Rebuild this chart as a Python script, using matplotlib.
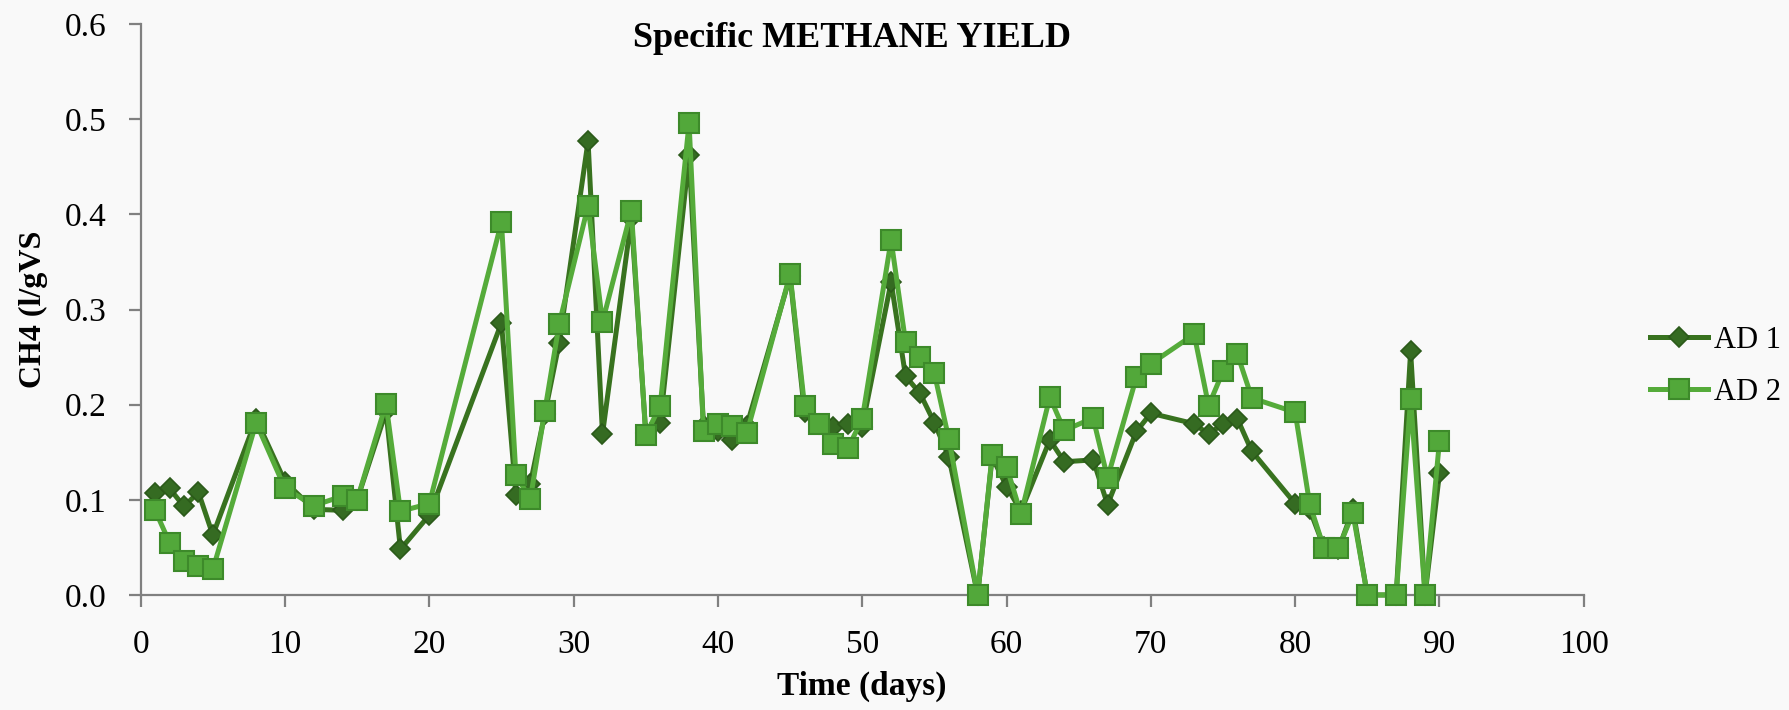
import numpy as np
import matplotlib.pyplot as plt

days = [1, 2, 3, 4, 5, 8, 10, 12, 14, 15, 17, 18, 20, 25, 26, 27, 28, 29, 31, 32,
        34, 35, 36, 38, 39, 40, 41, 42, 45, 46, 47, 48, 49, 50, 52, 53, 54, 55, 56, 58,
        59, 60, 61, 63, 64, 66, 67, 69, 70, 73, 74, 75, 76, 77, 80, 81, 82, 83, 84, 85,
        87, 88, 89, 90]

ad1 = [0.107, 0.112, 0.093, 0.108, 0.063, 0.185, 0.119, 0.090, 0.089, 0.100,
       0.193, 0.048, 0.084, 0.286, 0.105, 0.117, 0.190, 0.265, 0.477, 0.169,
       0.396, 0.170, 0.181, 0.462, 0.178, 0.172, 0.163, 0.178, 0.335, 0.192,
       0.180, 0.177, 0.180, 0.177, 0.329, 0.230, 0.212, 0.181, 0.145, 0.0,
       0.145, 0.114, 0.088, 0.163, 0.140, 0.142, 0.095, 0.172, 0.191, 0.180,
       0.169, 0.180, 0.185, 0.151, 0.096, 0.090, 0.050, 0.048, 0.090, 0.0,
       0.0, 0.256, 0.0, 0.128]

ad2 = [0.089, 0.055, 0.036, 0.030, 0.027, 0.181, 0.112, 0.094, 0.104, 0.100,
       0.201, 0.088, 0.096, 0.392, 0.126, 0.101, 0.193, 0.285, 0.409, 0.287,
       0.404, 0.168, 0.199, 0.496, 0.172, 0.180, 0.178, 0.170, 0.337, 0.199,
       0.180, 0.159, 0.154, 0.185, 0.373, 0.266, 0.250, 0.233, 0.164, 0.0,
       0.147, 0.135, 0.085, 0.208, 0.173, 0.186, 0.123, 0.229, 0.243, 0.274,
       0.199, 0.235, 0.253, 0.207, 0.192, 0.096, 0.049, 0.049, 0.086, 0.0,
       0.0, 0.206, 0.0, 0.162]

plt.rcParams['font.family'] = ['Liberation Serif', 'DejaVu Serif']

fig = plt.figure(figsize=(17.9, 7.1), dpi=100, facecolor='#f9f9f9')
ax = fig.add_axes([0.0786, 0.162, 0.8062, 0.804])
ax.set_facecolor('#f9f9f9')

ax.plot(days, ad1, color='#38721f', lw=3.6, marker='D', ms=10.5,
        markerfacecolor='#356b22', markeredgecolor='#2b5a1a', markeredgewidth=1.2,
        label='AD 1', clip_on=False, zorder=3)
ax.plot(days, ad2, color='#55ab3a', lw=3.6, marker='s', ms=14,
        markerfacecolor='#52a83a', markeredgecolor='#3d8a2a', markeredgewidth=1.5,
        label='AD 2', clip_on=False, zorder=4)

ax.set_xlim(0, 100)
ax.set_ylim(0, 0.6)
ax.set_xticks(np.arange(0, 101, 10))
ax.set_yticks(np.arange(0, 0.61, 0.1))
ax.set_yticklabels([f'{v:.1f}' for v in np.arange(0, 0.61, 0.1)])

for s in ['top', 'right']:
    ax.spines[s].set_visible(False)
for s in ['left', 'bottom']:
    ax.spines[s].set_color('#808080')
    ax.spines[s].set_linewidth(1.6)
ax.tick_params(colors='#808080', width=1.6, length=8.5, labelcolor='black', labelsize=24)
ax.tick_params(axis='y', pad=16)
ax.tick_params(axis='x', pad=16)

fig.text(0.476, 0.946, 'Specific METHANE YIELD', fontsize=26, fontweight='bold',
         ha='center', va='center')
ax.set_xlabel('Time (days)', fontsize=24, fontweight='bold', labelpad=8)
ax.set_ylabel('CH4 (l/gVS', fontsize=23, fontweight='bold', labelpad=12)

ax.legend(loc='center left', bbox_to_anchor=(1.046, 0.40), frameon=False,
          borderaxespad=0, borderpad=0,
          fontsize=22, handlelength=1.9, labelspacing=0.75, handletextpad=0.2)

fig.savefig('out.png', dpi=100, facecolor=fig.get_facecolor())
